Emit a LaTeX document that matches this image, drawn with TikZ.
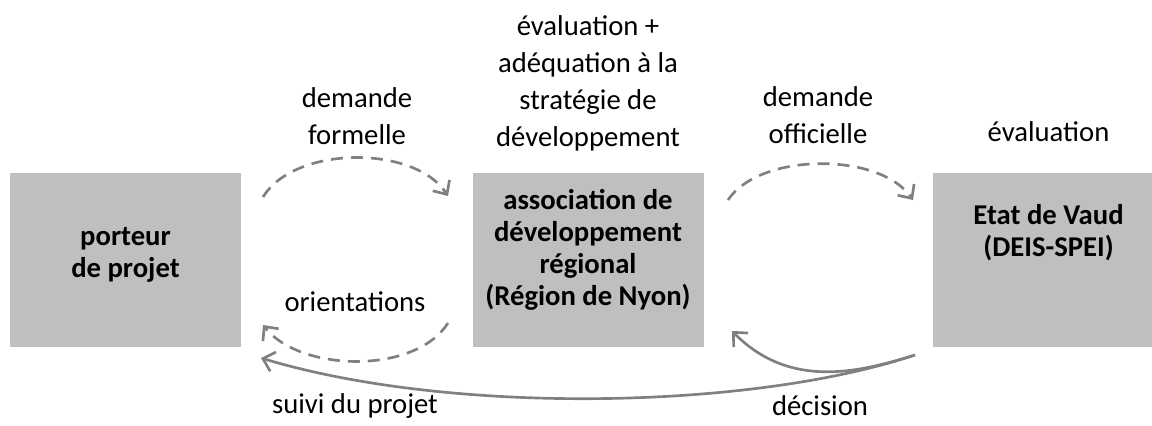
\documentclass[tikz,border=0pt]{standalone}
\usepackage{fontspec}
\setmainfont{Carlito}
\usetikzlibrary{arrows.meta}
\definecolor{boxgray}{HTML}{BFBFBF}
\definecolor{arrowgray}{HTML}{808080}
\begin{document}
\begin{tikzpicture}
[x=0.75pt,y=-0.75pt,
  boxdecorate/.style={shape=rectangle,fill=boxgray,inner sep=0pt,%
    minimum width=173.25pt,minimum height=130.5pt},%
  boxtext/.style={align=center,font=\fontsize{21.5}{24}\selectfont\bfseries},%
  labeldecorate/.style={align=center,inner sep=0pt,font=\fontsize{21.5}{27.75}\selectfont},%
  flowline/.style={-{Straight Barb[length=8pt,width=15pt]},line width=2pt,draw=arrowgray},%
  flowdashed/.style={flowline,dash pattern=on 9pt off 6pt}]
\clip (0,0) rectangle (1152,425);
%% boxes
\foreach \nodename/\x in {porteur/125.5, assoc/588, etat/1048.5} {
  \node (\nodename) at (\x,260) [boxdecorate] {};
}
\node (porteurtxt) at (125.5,255) [boxtext] {porteur\\de projet};
\node (assoctxt) at (588,250) [boxtext] {association de\\développement\\régional\\(Région de Nyon)};
\node (etattxt) at (1048.5,233) [boxtext] {Etat de Vaud\\(DEIS-SPEI)};
%% labels
\foreach \nodename/\x/\y/\txt in {formelle/357/116/{demande\\formelle},
  strategie/588/83/{évaluation +\\adéquation à la\\stratégie de\\développement},
  officielle/818/115/{demande\\officielle}, evaluation/1048.5/132/{évaluation},
  orientations/355/302/{orientations}, suivi/355/406/{suivi du projet},
  decision/820/406/{décision}} {
  \node (\nodename) at (\x,\y) [labeldecorate] {\txt};
}
%% arrow ends
\coordinate (fs) at (263,197);  \coordinate (fe) at (448,196);
\coordinate (os) at (728,200);  \coordinate (oe) at (913,200);
\coordinate (rs) at (448,323);  \coordinate (re) at (263,325);
\coordinate (ds) at (915,355);  \coordinate (de) at (732,331);
\coordinate (se) at (261,358);
%% arrows
\draw[flowdashed] (fs) .. controls (295,145) and (415,145) .. (fe);
\draw[flowdashed] (os) .. controls (760,152) and (880,152) .. (oe);
\draw[flowdashed] (rs) .. controls (415,375) and (300,372) .. (re);
\draw[flowline] (ds) .. controls (860,372) and (790,390) .. (de);
\draw[flowline] (ds) .. controls (750,410) and (450,415) .. (se);
\end{tikzpicture}
\end{document}
